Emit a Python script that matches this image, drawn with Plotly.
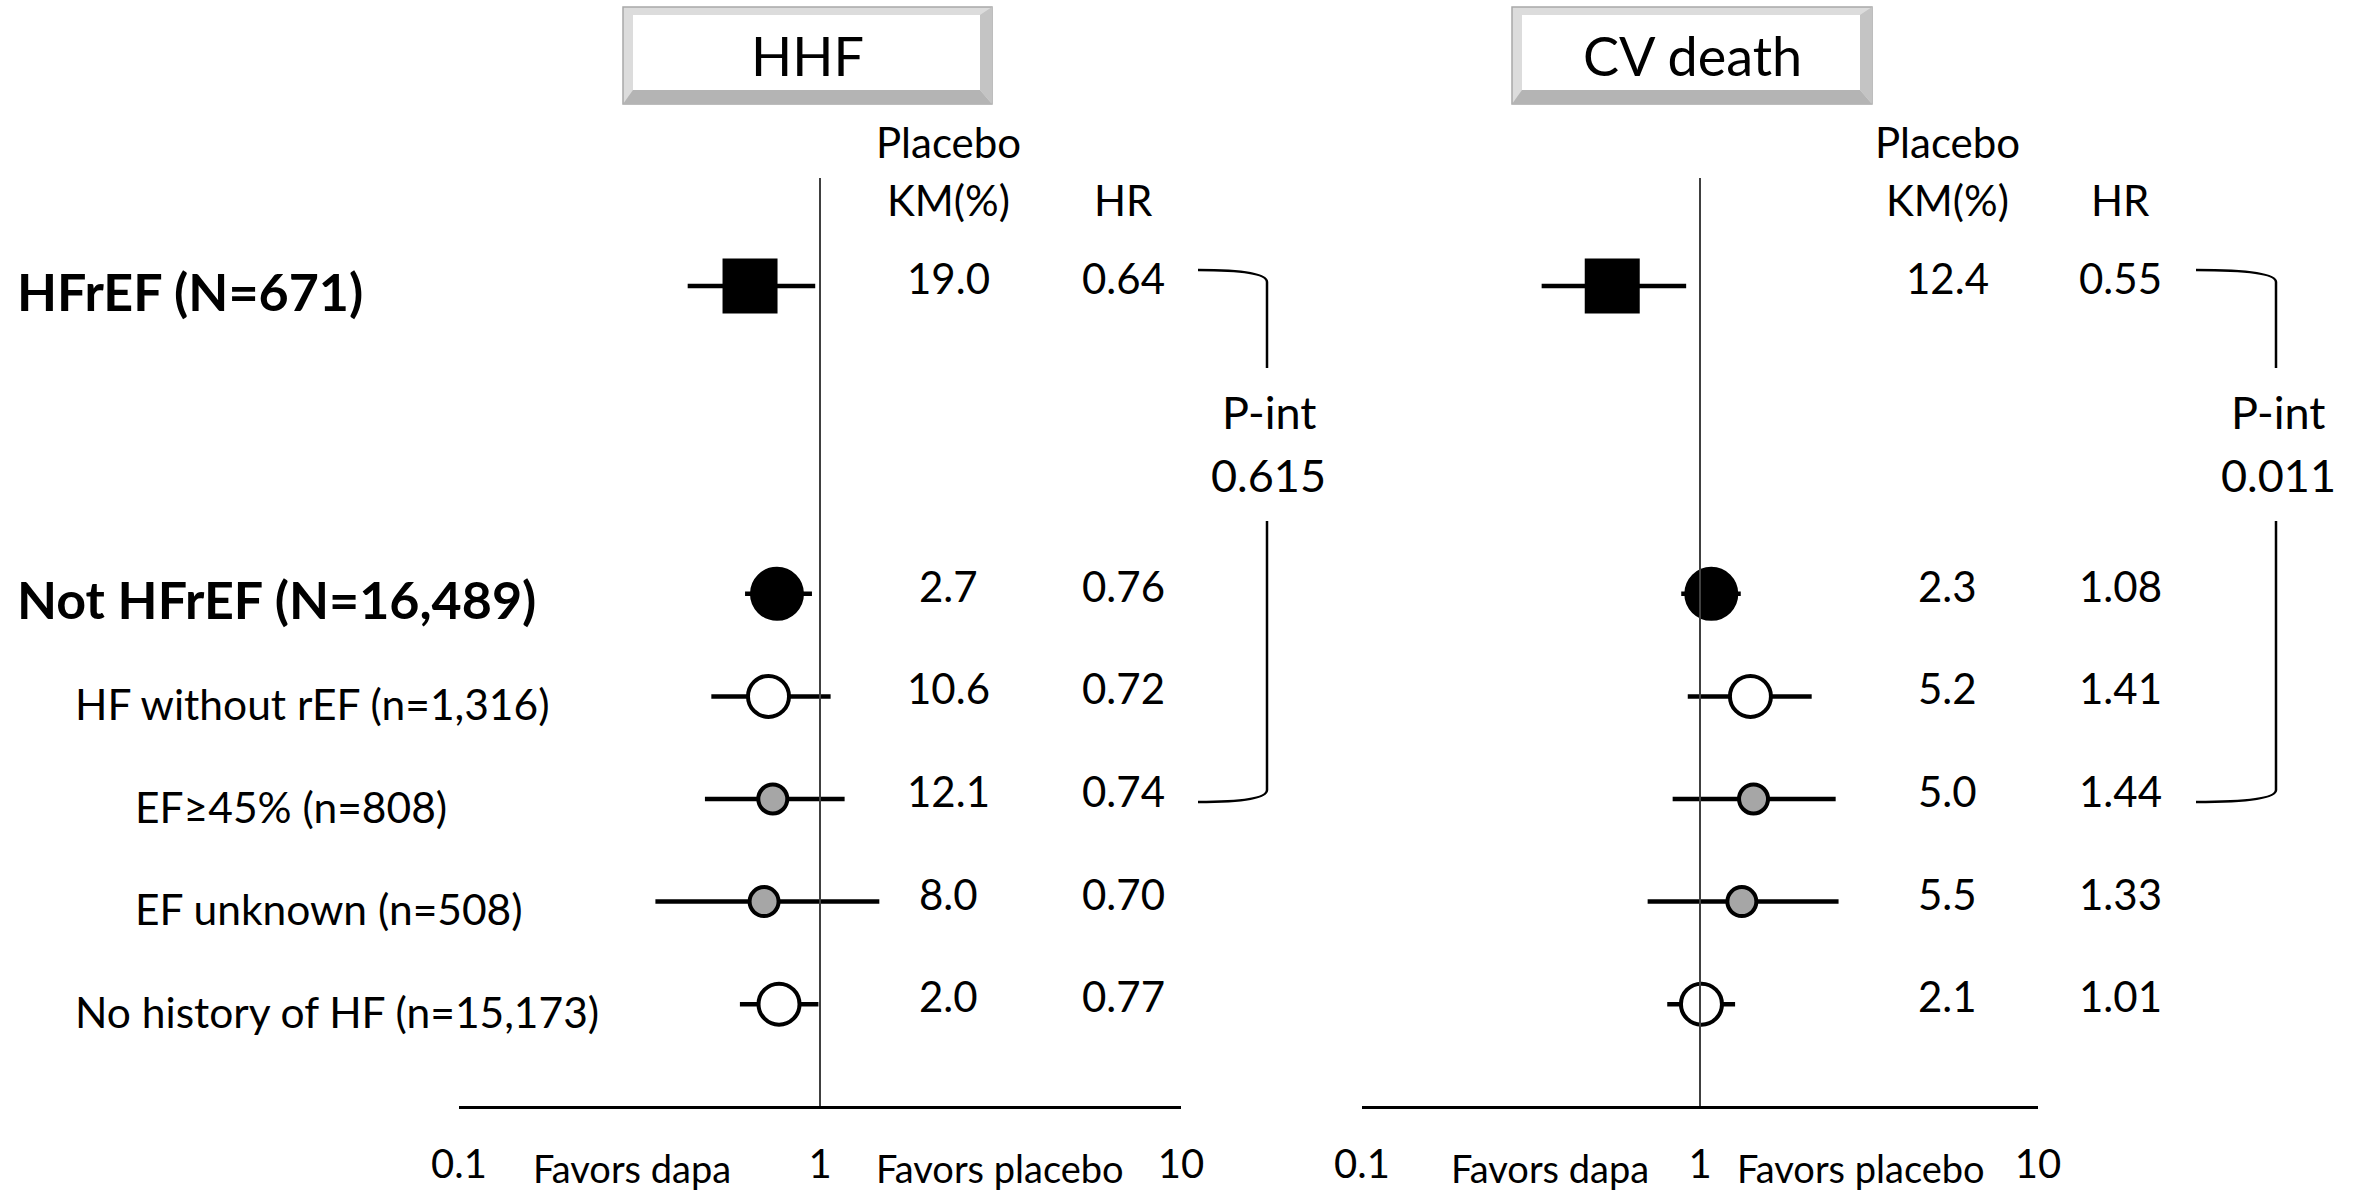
import plotly.graph_objects as go

W, H = 2366, 1196
FONT = "Lato"

# ---------------- data ----------------
groups = ["HFrEF (N=671)", "Not HFrEF (N=16,489)", "HF without rEF (n=1,316)",
          "EF≥45% (n=808)", "EF unknown (n=508)", "No history of HF (n=15,173)"]
row_pos = [0, 3, 4, 5, 6, 7]
label_bold = [True, True, False, False, False, False]
label_indent = [0, 0, 1, 2, 2, 1]

hhf_km = ["19.0", "2.7", "10.6", "12.1", "8.0", "2.0"]
hhf_hr = [0.64, 0.76, 0.72, 0.74, 0.70, 0.77]
hhf_lo = [0.43, 0.62, 0.50, 0.48, 0.35, 0.60]
hhf_hi = [0.97, 0.95, 1.07, 1.17, 1.46, 0.99]

cvd_km = ["12.4", "2.3", "5.2", "5.0", "5.5", "2.1"]
cvd_hr = [0.55, 1.08, 1.41, 1.44, 1.33, 1.01]
cvd_lo = [0.34, 0.88, 0.92, 0.83, 0.70, 0.80]
cvd_hi = [0.91, 1.32, 2.14, 2.52, 2.57, 1.27]

p_int = ["0.615", "0.011"]
panel_titles = ["HHF", "CV death"]
tick_vals = [0.1, 1, 10]
tick_text = ["0.1", "1", "10"]

# ---------------- styles ----------------
symbols = ["square", "circle", "circle", "circle", "circle", "circle"]
fills = ["black", "black", "white", "#a6a6a6", "#a6a6a6", "white"]
sizes = [55, 50, 41, 29, 29, 41]
line_w = [0, 4, 4, 4, 4, 4]


def px(x):
    return x / W


def py(y):
    return 1 - y / H


AXIS_Y = 1106
ROW0, ROWSTEP = 286, 102.6
r_min = -ROW0 / ROWSTEP
r_max = r_min + AXIS_Y / ROWSTEP

fig = go.Figure()

panels = [
    dict(xa="x", hr=hhf_hr, lo=hhf_lo, hi=hhf_hi, km=hhf_km,
         kmx=948, hrx=1123, box=[623, 992], brx=1267, brl=1198, fav=[632, 1000]),
    dict(xa="x2", hr=cvd_hr, lo=cvd_lo, hi=cvd_hi, km=cvd_km,
         kmx=1947, hrx=2120, box=[1512, 1872], brx=2276, brl=2196, fav=[1550, 1861]),
]

shapes = []
annotations = []


def ann(text, x, y, size, yref="paper", yshift=0, xanchor="center", bold=False):
    annotations.append(dict(
        text=f"<b>{text}</b>" if bold else text, xref="paper", yref=yref, x=x, y=y,
        yshift=yshift, xanchor=xanchor, yanchor="middle", showarrow=False,
        font=dict(size=size, family=FONT, color="black")))


for k, p in enumerate(panels):
    # CI lines
    xs, ys = [], []
    for r, lo, hi in zip(row_pos, p["lo"], p["hi"]):
        xs += [lo, hi, None]
        ys += [r, r, None]
    fig.add_trace(go.Scatter(x=xs, y=ys, mode="lines", xaxis=p["xa"], yaxis="y",
                             line=dict(color="black", width=4.5), hoverinfo="skip",
                             showlegend=False))
    # point estimates
    fig.add_trace(go.Scatter(
        x=p["hr"], y=row_pos, mode="markers", xaxis=p["xa"], yaxis="y",
        marker=dict(symbol=symbols, color=fills, size=sizes, opacity=1,
                    line=dict(color="black", width=line_w)),
        showlegend=False))
    # vertical line at 1
    shapes.append(dict(type="line", xref=p["xa"], yref="paper", x0=1, x1=1,
                       y0=py(178), y1=py(AXIS_Y), line=dict(color="#404040", width=2)))
    # title box (bevelled)
    x0, x1 = p["box"]
    y0, y1 = 7, 104
    shapes.append(dict(type="rect", xref="paper", yref="paper", x0=px(x0), x1=px(x1),
                       y0=py(y1), y1=py(y0), fillcolor="#dcdcdc",
                       line=dict(color="#a8a8a8", width=1.5)))
    shapes.append(dict(type="path", xref="paper", yref="paper",
                       path=f"M {px(x0)} {py(y1)} L {px(x1)} {py(y1)} L {px(x1 - 12)} {py(y1 - 14)} "
                            f"L {px(x0 + 10)} {py(y1 - 14)} Z",
                       fillcolor="#b4b4b4", line=dict(width=0)))
    shapes.append(dict(type="path", xref="paper", yref="paper",
                       path=f"M {px(x1)} {py(y0)} L {px(x1)} {py(y1)} L {px(x1 - 12)} {py(y1 - 14)} "
                            f"L {px(x1 - 12)} {py(y0 + 8)} Z",
                       fillcolor="#c4c4c4", line=dict(width=0)))
    shapes.append(dict(type="rect", xref="paper", yref="paper", x0=px(x0 + 10), x1=px(x1 - 12),
                       y0=py(y1 - 14), y1=py(y0 + 8), fillcolor="white", line=dict(width=0)))
    ann(panel_titles[k], px((x0 + x1) / 2), py(56), 54)
    # column headers
    ann("Placebo", px(p["kmx"]), py(142), 42)
    ann("KM(%)", px(p["kmx"]), py(200), 42)
    ann("HR", px(p["hrx"]), py(200), 42)
    # values
    for r, km, hr in zip(row_pos, p["km"], p["hr"]):
        ann(km, px(p["kmx"]), r, 42, yref="y", yshift=8)
        ann(f"{hr:.2f}", px(p["hrx"]), r, 42, yref="y", yshift=8)
    # favors labels
    ann("Favors dapa", px(p["fav"][0]), py(1168), 38)
    ann("Favors placebo", px(p["fav"][1]), py(1168), 38)
    # P-interaction bracket
    bx, bl = p["brx"], p["brl"]
    shapes.append(dict(type="path", xref="paper", yref="paper",
                       path=f"M {px(bl)} {py(270)} Q {px(bx)} {py(270)} {px(bx)} {py(282)} L {px(bx)} {py(368)}",
                       line=dict(color="black", width=2.5)))
    shapes.append(dict(type="path", xref="paper", yref="paper",
                       path=f"M {px(bx)} {py(521)} L {px(bx)} {py(790)} Q {px(bx)} {py(802)} {px(bl)} {py(802)}",
                       line=dict(color="black", width=2.5)))
    ann("P-int", px(bx + 2), py(412), 45)
    ann(p_int[k], px(bx + 2), py(475), 45)

# row labels
label_x = [15, 73, 133]
for g, r, b, ind in zip(groups, row_pos, label_bold, label_indent):
    ann(g, px(label_x[ind]), r, 52 if b else 42.5, yref="y", yshift=-5 if b else -7,
        xanchor="left", bold=b)

axis_common = dict(type="log", range=[-1, 1], showgrid=False, zeroline=False,
                   showline=True, linecolor="black", linewidth=3, ticks="",
                   tickvals=tick_vals, ticktext=tick_text, ticklabelstandoff=21,
                   tickfont=dict(size=40, family=FONT, color="black"), fixedrange=True,
                   automargin=False)

fig.update_layout(
    width=W, height=H, margin=dict(l=0, r=0, t=0, b=0, pad=0, autoexpand=False),
    paper_bgcolor="white", plot_bgcolor="white",
    xaxis=dict(domain=[px(459), px(1181)], anchor="y", **axis_common),
    xaxis2=dict(domain=[px(1362), px(2038)], anchor="y", **axis_common),
    yaxis=dict(domain=[1 - AXIS_Y / H, 1], range=[r_max, r_min], visible=False,
               fixedrange=True, automargin=False),
    shapes=shapes, annotations=annotations,
    font=dict(family=FONT, color="black"),
)

fig.write_html("out.html", config={"displayModeBar": False},
               post_script="document.body.style.margin='0';")
